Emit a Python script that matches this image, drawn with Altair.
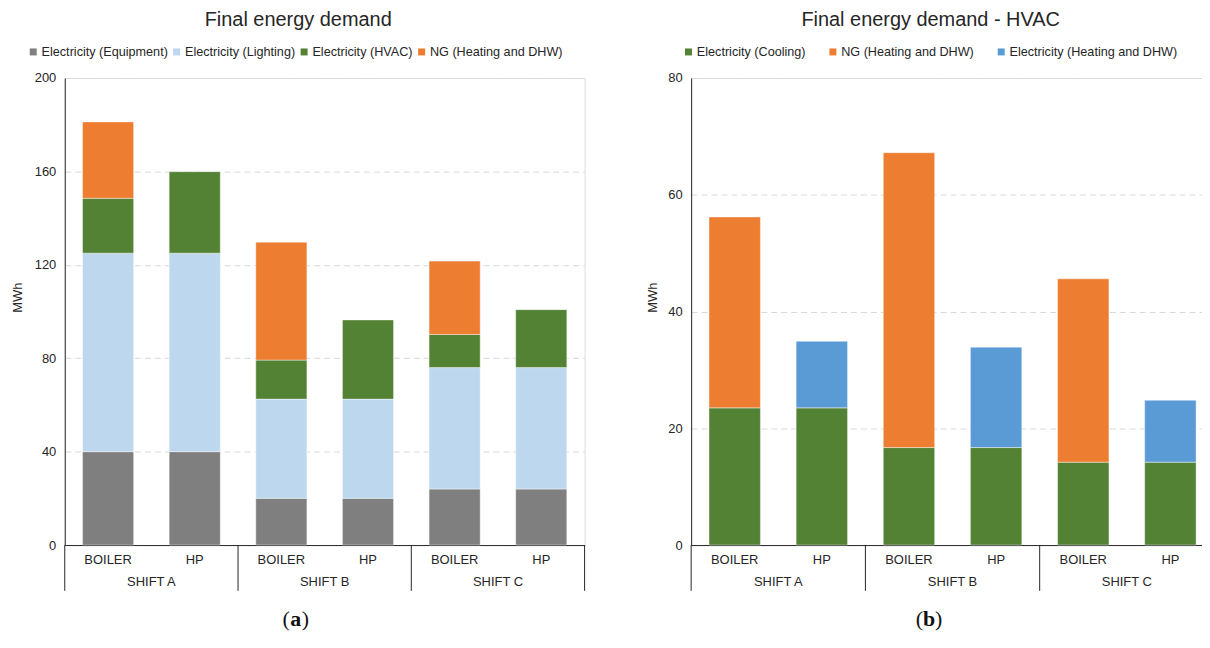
import altair as alt
import pandas as pd

FONT = "Liberation Sans"
TXT = "#262626"

systems = ["BOILER", "HP", "BOILER", "HP", "BOILER", "HP"]
shift_of_bar = ["SHIFT A", "SHIFT A", "SHIFT B", "SHIFT B", "SHIFT C", "SHIFT C"]
shift_labels = ["SHIFT A", "SHIFT B", "SHIFT C"]
shift_centers = [1, 3, 5]
group_edges = [0, 2, 4, 6]

# Panel (a): Final energy demand
a_series = ["Electricity (Equipment)", "Electricity (Lighting)", "Electricity (HVAC)", "NG (Heating and DHW)"]
a_colors = ["#7f7f7f", "#bdd7ee", "#548235", "#ed7d31"]
a_equipment = [40, 40, 20, 20, 24, 24]
a_lighting = [85, 85, 42.5, 42.5, 52, 52]
a_hvac = [23.5, 34.9, 16.7, 33.9, 14.2, 24.8]
a_ng = [32.7, 0, 50.5, 0, 31.4, 0]
a_ticks = [0, 40, 80, 120, 160, 200]

# Panel (b): Final energy demand - HVAC
b_series = ["Electricity (Cooling)", "NG (Heating and DHW)", "Electricity (Heating and DHW)"]
b_colors = ["#548235", "#ed7d31", "#5b9bd5"]
b_cooling = [23.5, 23.5, 16.7, 16.7, 14.2, 14.2]
b_ng = [32.7, 0, 50.5, 0, 31.4, 0]
b_el_heat = [0, 11.4, 0, 17.2, 0, 10.6]
b_ticks = [0, 20, 40, 60, 80]

H = 469


def panel(title, series, colors, value_lists, ticks, caption, legend_x, legend_pad, title_pad, cap_x, W):
    keys = [f"{s}|{b}" for s, b in zip(shift_of_bar, systems)]
    rows = []
    for s_idx, (name, vals) in enumerate(zip(series, value_lists)):
        for i, v in enumerate(vals):
            if v > 0:
                rows.append({"key": keys[i], "series": name, "value": v, "ord": s_idx})
    df = pd.DataFrame(rows)

    bars = alt.Chart(df).mark_bar(stroke="white", strokeWidth=0.7, strokeOpacity=0.6).encode(
        x=alt.X("key:N", sort=keys,
                scale=alt.Scale(domain=keys, paddingInner=0.41, paddingOuter=0.205),
                axis=alt.Axis(title=None, labelExpr="split(datum.value, '|')[1]", labelAngle=0,
                              ticks=False, labelPadding=9, domainColor=TXT, domainWidth=1,
                              labelFont=FONT, labelFontSize=13, labelColor=TXT, grid=False)),
        y=alt.Y("value:Q", stack="zero",
                scale=alt.Scale(domain=[ticks[0], ticks[-1]], nice=False),
                axis=alt.Axis(title="MWh", values=ticks, grid=True, gridDash=[6, 4], gridColor="#d9d9d9",
                              ticks=False, domainColor=TXT, domainWidth=1, labelPadding=9,
                              labelFont=FONT, labelFontSize=13, labelColor=TXT,
                              titleFont=FONT, titleFontSize=13, titleColor=TXT, titleFontWeight="normal",
                              titlePadding=title_pad, titleY=220)),
        color=alt.Color("series:N", scale=alt.Scale(domain=series, range=colors),
                        legend=alt.Legend(title=None, orient="none", legendX=legend_x, legendY=-33,
                                          direction="horizontal", symbolType="square", symbolSize=49,
                                          symbolStrokeWidth=0, labelFont=FONT, labelFontSize=12.7,
                                          labelColor=TXT, labelOffset=2, labelLimit=400,
                                          columnPadding=legend_pad)),
        order=alt.Order("ord:Q", sort="ascending"),
    )

    xq = alt.Scale(domain=[0, 6], nice=False, zero=False)
    seps = alt.Chart(pd.DataFrame({"pos": group_edges})).mark_rule(color=TXT, strokeWidth=1).encode(
        x=alt.X("pos:Q", scale=xq, axis=None),
        y=alt.value(H), y2=alt.value(H + 46))
    grp = alt.Chart(pd.DataFrame({"pos": shift_centers, "label": shift_labels})).mark_text(
        font=FONT, fontSize=13, color=TXT, baseline="middle").encode(
        x=alt.X("pos:Q", scale=xq, axis=None),
        y=alt.value(H + 37), text="label:N")

    cap_y = H + 74
    cap_mid = alt.Chart(pd.DataFrame({"t": [caption]})).mark_text(
        font="Liberation Serif", fontSize=22, fontWeight="bold", color="#111111", baseline="middle").encode(
        x=alt.value(cap_x), y=alt.value(cap_y), text="t:N")
    cap_l = alt.Chart(pd.DataFrame({"t": ["("]})).mark_text(
        font="Liberation Serif", fontSize=22, color="#111111", baseline="middle", align="right", dx=-6).encode(
        x=alt.value(cap_x), y=alt.value(cap_y), text="t:N")
    cap_r = alt.Chart(pd.DataFrame({"t": [")"]})).mark_text(
        font="Liberation Serif", fontSize=22, color="#111111", baseline="middle", align="left", dx=6).encode(
        x=alt.value(cap_x), y=alt.value(cap_y), text="t:N")

    return alt.layer(bars, seps, grp, cap_mid, cap_l, cap_r).resolve_scale(x="independent").properties(
        width=W, height=H,
        title=alt.TitleParams(title, anchor="middle", frame="bounds", font=FONT, fontSize=20,
                              fontWeight="normal", color=TXT, offset=15))


left = panel("Final energy demand", a_series, a_colors, [a_equipment, a_lighting, a_hvac, a_ng],
             a_ticks, "a", -38, 2, 10, 232, 522)
right = panel("Final energy demand - HVAC", b_series, b_colors, [b_cooling, b_ng, b_el_heat],
              b_ticks, "b", -9, 21, 8, 239, 525)

chart = alt.hconcat(left, right, spacing=61).resolve_scale(color="independent").resolve_legend(
    color="independent").properties(
    padding={"left": 2, "top": 0, "right": -13, "bottom": -1}
).configure_view(stroke="#7f7f7f", strokeWidth=1).configure(background="white")

chart.save("out.html", embed_options={"renderer": "svg", "actions": False})
